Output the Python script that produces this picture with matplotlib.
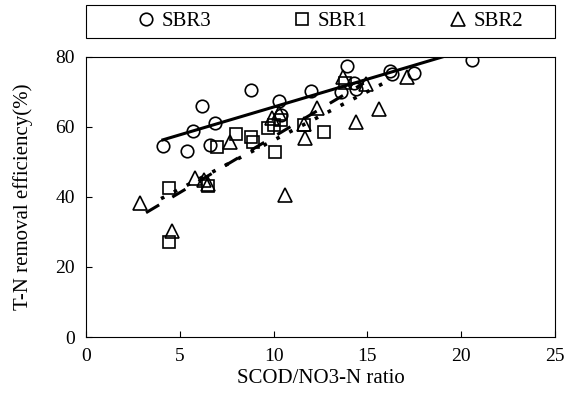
import numpy as np
import matplotlib
matplotlib.use("Agg")
import matplotlib.pyplot as plt
from matplotlib.patches import Rectangle

# values
sbr3_x = [4.1, 5.4, 5.7, 6.2, 6.6, 6.9, 8.8, 10.3, 10.4, 12.0, 13.6, 13.9, 14.3, 14.4, 16.2, 16.3, 17.5, 20.6]
sbr3_y = [54.5, 53.2, 58.9, 66.0, 54.8, 61.0, 70.6, 67.4, 63.5, 70.4, 70.0, 77.4, 72.5, 70.8, 76.0, 75.0, 75.3, 79.1]

sbr1_x = [4.4, 4.4, 6.5, 7.0, 8.0, 8.8, 8.9, 9.7, 10.0, 10.4, 10.1, 11.6, 12.7, 13.8]
sbr1_y = [42.7, 27.0, 43.1, 54.4, 58.1, 57.0, 55.6, 59.6, 60.5, 62.1, 52.8, 60.6, 58.7, 72.5]

sbr2_x = [2.9, 4.6, 5.8, 6.3, 6.5, 7.7, 9.9, 10.3, 10.6, 11.6, 11.7, 12.3, 13.7, 14.4, 14.9, 15.6, 17.1]
sbr2_y = [38.2, 30.4, 45.3, 44.9, 43.7, 55.6, 62.5, 63.9, 40.6, 60.8, 56.8, 65.3, 74.2, 61.5, 72.3, 65.0, 74.2]

# trend lines: slope, intercept, x range
fit3 = (1.59, 49.8, 4.1, 19.0)
fit1 = (2.78, 28.4, 4.0, 15.8)
fit2 = (3.19, 25.3, 3.2, 14.8)

plt.rcParams['font.family'] = ['Liberation Serif', 'DejaVu Serif']

fig = plt.figure(figsize=(5.71, 4.01), dpi=100)
ax = fig.add_axes([0.1506, 0.1596, 0.8214, 0.6984])

mk = dict(markerfacecolor='none', markeredgecolor='black', markeredgewidth=1.2,
          linestyle='none', color='black')
ax.plot(sbr3_x, sbr3_y, marker='o', markersize=9, label='SBR3', **mk)
ax.plot(sbr1_x, sbr1_y, marker='s', markersize=8.5, label='SBR1', **mk)
ax.plot(sbr2_x, sbr2_y, marker='^', markersize=9.5, label='SBR2', **mk)

def trend(fit, **kw):
    a, b, x0, x1 = fit
    xs = np.array([x0, x1])
    ax.plot(xs, a * xs + b, color='black', **kw)

trend(fit3, linewidth=2.2, linestyle='-')
trend(fit1, linewidth=2.6, linestyle=(0, (1, 3)))
trend(fit2, linewidth=2.2, linestyle=(0, (5, 5)))

ax.set_xlim(0, 25)
ax.set_ylim(0, 80)
ax.set_xticks([0, 5, 10, 15, 20, 25])
ax.set_yticks([0, 20, 40, 60, 80])
ax.tick_params(direction='in', length=4, labelsize=14, pad=8)
for s in ax.spines.values():
    s.set_linewidth(0.8)

ax.set_xlabel('SCOD/NO3-N ratio', fontsize=15, labelpad=3)
ax.set_ylabel('T-N removal efficiency(%)', fontsize=15, labelpad=16)

# legend box spans the axes width above the plot
box = Rectangle((0.0, 1.068), 1.0, 0.118, transform=ax.transAxes, fill=False,
                edgecolor='black', linewidth=0.8, clip_on=False)
ax.add_patch(box)
leg = ax.legend(loc='center', bbox_to_anchor=(0.52, 1.127), ncol=3, frameon=False,
                fontsize=15, handletextpad=0.3, handlelength=0.9, columnspacing=3.9,
                borderaxespad=0, borderpad=0)

fig.savefig('out.png', dpi=100)
